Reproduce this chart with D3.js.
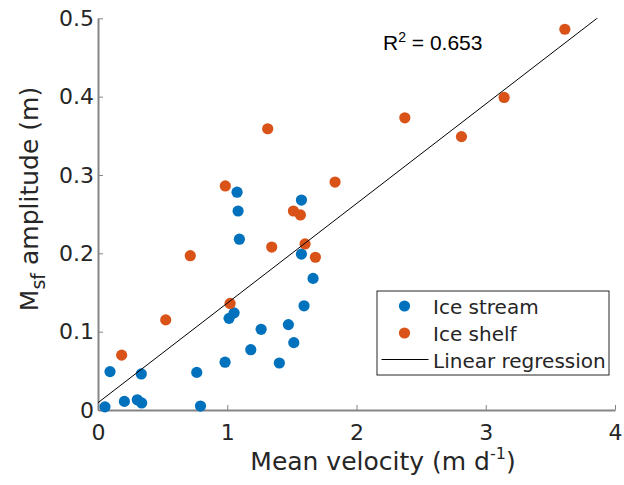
<!DOCTYPE html>
<html>
<head>
<meta charset="utf-8">
<script src="https://cdn.jsdelivr.net/npm/d3@7"></script>
<style>
    html, body { margin: 0; padding: 0; background: #fff; }
    svg { display: block; }
</style>
</head>
<body>
<svg id="chart" width="624" height="485"></svg>
<script>
    // mean velocity (m/d) and Msf amplitude (m)
    var streamX = [0.054, 0.093, 0.204, 0.304, 0.338, 0.335, 0.764, 0.793, 0.983, 1.014, 1.053, 1.182,
        1.262, 1.473, 1.403, 1.515, 1.594, 1.664, 1.574, 1.094, 1.084, 1.076, 1.574];
    var streamY = [0.004, 0.049, 0.011, 0.013, 0.009, 0.046, 0.048, 0.005, 0.061, 0.117, 0.124, 0.077,
        0.103, 0.109, 0.060, 0.086, 0.133, 0.168, 0.199, 0.218, 0.254, 0.278, 0.268];

    var shelfX = [0.183, 0.524, 0.714, 0.985, 1.022, 1.313, 1.344, 1.512, 1.566, 1.602, 1.682, 1.834,
        2.374, 2.812, 3.142, 3.612];
    var shelfY = [0.070, 0.115, 0.197, 0.286, 0.136, 0.359, 0.208, 0.254, 0.249, 0.212, 0.195, 0.291,
        0.373, 0.349, 0.399, 0.486];

    var fitSlope = 0.1271;
    var fitIntercept = 0.0093;
    var rSquared = '0.653';

    var xTicks = [0, 1, 2, 3, 4];
    var xTickLabels = ['0', '1', '2', '3', '4'];
    var yTicks = [0, 0.1, 0.2, 0.3, 0.4, 0.5];
    var yTickLabels = ['0', '0.1', '0.2', '0.3', '0.4', '0.5'];
    var legendNames = ['Ice stream', 'Ice shelf', 'Linear regression'];

    var blue = '#0072BD';
    var orange = '#D95319';
    var textColor = '#262626';

    var svg = d3.select('#chart');

    var x = d3.scaleLinear().domain([0, 4]).range([98, 615]);
    var y = d3.scaleLinear().domain([0, 0.5]).range([410, 18.3]);

    svg.append('defs').append('clipPath')
        .attr('id', 'plotClip')
        .append('rect')
        .attr('x', x(0))
        .attr('y', y(0.5))
        .attr('width', x(4) - x(0))
        .attr('height', y(0) - y(0.5));

    // axes
    var xAxis = d3.axisBottom(x)
        .tickValues(xTicks)
        .tickFormat(function (d, i) { return xTickLabels[i]; })
        .tickSizeInner(-5)
        .tickSizeOuter(0)
        .tickPadding(14.4);

    var yAxis = d3.axisLeft(y)
        .tickValues(yTicks)
        .tickFormat(function (d, i) { return yTickLabels[i]; })
        .tickSizeInner(-5)
        .tickSizeOuter(0)
        .tickPadding(4);

    var gx = svg.append('g')
        .attr('transform', 'translate(0,' + y(0) + ')')
        .call(xAxis);

    var gy = svg.append('g')
        .attr('transform', 'translate(' + x(0) + ',0)')
        .call(yAxis);

    [gx, gy].forEach(function (g) {
        g.select('.domain').attr('stroke', '#858585').attr('stroke-width', 2);
        g.selectAll('.tick line').attr('stroke', '#858585').attr('stroke-width', 1);
        g.selectAll('.tick text')
            .attr('fill', textColor)
            .style('font-family', '"DejaVu Sans", Verdana, sans-serif')
            .style('font-size', '22px');
    });

    // points
    var streamPts = streamX.map(function (v, i) { return [v, streamY[i]]; });
    var shelfPts = shelfX.map(function (v, i) { return [v, shelfY[i]]; });

    svg.append('g').selectAll('circle')
        .data(streamPts)
        .enter().append('circle')
        .attr('cx', function (d) { return x(d[0]); })
        .attr('cy', function (d) { return y(d[1]); })
        .attr('r', 5.6)
        .attr('fill', blue);

    svg.append('g').selectAll('circle')
        .data(shelfPts)
        .enter().append('circle')
        .attr('cx', function (d) { return x(d[0]); })
        .attr('cy', function (d) { return y(d[1]); })
        .attr('r', 5.6)
        .attr('fill', orange);

    // regression line
    var line = d3.line()
        .x(function (d) { return x(d); })
        .y(function (d) { return y(fitIntercept + fitSlope * d); });

    svg.append('path')
        .datum([0, 4])
        .attr('clip-path', 'url(#plotClip)')
        .attr('d', line)
        .attr('fill', 'none')
        .attr('stroke', '#000')
        .attr('stroke-width', 1);

    // R^2 annotation
    var rText = svg.append('text')
        .attr('x', 383)
        .attr('y', 50)
        .attr('fill', '#000')
        .style('font-family', '"Liberation Sans", Arial, sans-serif')
        .style('font-size', '21px');
    rText.append('tspan').text('R');
    rText.append('tspan').attr('dy', -8).style('font-size', '14px').text('2');
    rText.append('tspan').attr('dy', 8).text(' = ' + rSquared);

    // axis labels
    var xLabel = svg.append('text')
        .attr('x', 383)
        .attr('y', 470)
        .attr('text-anchor', 'middle')
        .attr('fill', textColor)
        .style('font-family', '"DejaVu Sans", Verdana, sans-serif')
        .style('font-size', '25px');
    xLabel.append('tspan').text('Mean velocity (m d');
    xLabel.append('tspan').attr('dy', -11).style('font-size', '16px').text('-1');
    xLabel.append('tspan').attr('dy', 11).text(')');

    var yLabel = svg.append('text')
        .attr('transform', 'translate(38,199) rotate(-90)')
        .attr('text-anchor', 'middle')
        .attr('fill', textColor)
        .style('font-family', '"DejaVu Sans", Verdana, sans-serif')
        .style('font-size', '25px');
    yLabel.append('tspan').text('M');
    yLabel.append('tspan').attr('dy', 7).style('font-size', '19px').text('sf');
    yLabel.append('tspan').attr('dy', -7).text(' amplitude (m)');

    // legend
    var legend = svg.append('g');
    legend.append('rect')
        .attr('x', 377)
        .attr('y', 291)
        .attr('width', 232)
        .attr('height', 84)
        .attr('fill', '#fff')
        .attr('stroke', '#262626')
        .attr('stroke-width', 1);

    var rowY = [306, 333, 359.5];
    legend.append('circle').attr('cx', 404.5).attr('cy', rowY[0]).attr('r', 5.6).attr('fill', blue);
    legend.append('circle').attr('cx', 404.5).attr('cy', rowY[1]).attr('r', 5.6).attr('fill', orange);
    legend.append('line')
        .attr('x1', 381.5).attr('x2', 428.5)
        .attr('y1', rowY[2]).attr('y2', rowY[2])
        .attr('stroke', '#000').attr('stroke-width', 1);

    legend.selectAll('text.lg')
        .data(legendNames)
        .enter().append('text')
        .attr('class', 'lg')
        .attr('x', 433)
        .attr('y', function (d, i) { return rowY[i] + 8; })
        .attr('fill', textColor)
        .style('font-family', '"DejaVu Sans", Verdana, sans-serif')
        .style('font-size', '20px')
        .text(function (d) { return d; });
</script>
</body>
</html>
